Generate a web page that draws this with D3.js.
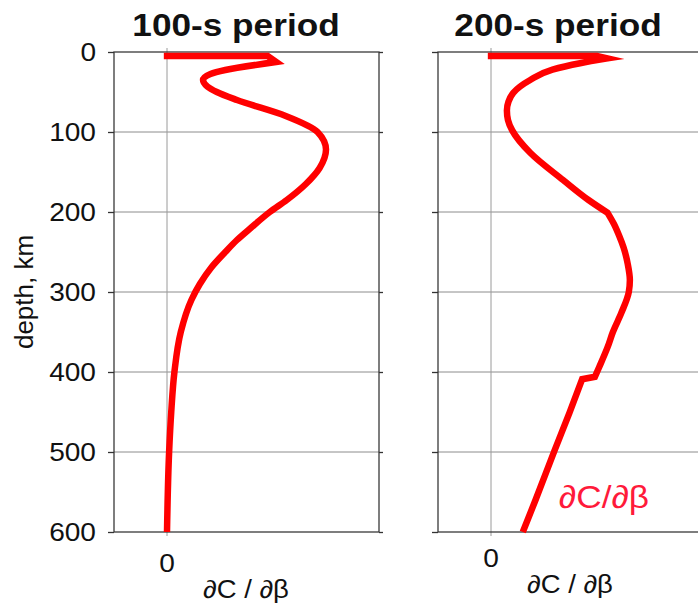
<!DOCTYPE html>
<html>
<head>
<meta charset="utf-8">
<script src="https://cdn.jsdelivr.net/npm/d3@7"></script>
<style>
  html, body { margin: 0; padding: 0; background: #fff; overflow: hidden; }
  svg { display: block; font-family: "Liberation Sans", Arial, sans-serif; }
</style>
</head>
<body>
<svg id="chart" width="698" height="604"></svg>
<script>
// Depth sensitivity kernels of phase velocity to shear velocity (arbitrary units)
const depthTicks = [0, 100, 200, 300, 400, 500, 600];
const panelTitles = ["100-s period", "200-s period"];

// the first three points trace the thin surface layer (straight segments)
const depth100 = [5, 5, 12.5, 22.5, 27.5, 35, 43, 50, 60, 80, 100, 122, 145, 165, 185, 200, 220, 235, 250, 269, 290, 310, 350, 400, 450, 500, 600];
const sens100  = [-0.03, 0.95, 1.03, 0.55, 0.41, 0.34, 0.38, 0.47, 0.66, 1.12, 1.42, 1.50, 1.44, 1.31, 1.13, 0.97, 0.79, 0.66, 0.55, 0.42, 0.31, 0.23, 0.13, 0.07, 0.04, 0.02, 0.0];
const kinks100 = [];

const depth200 = [5, 5, 8, 14, 22, 35, 51, 62, 73, 85, 98, 126, 160, 185, 201, 215, 230, 244, 265, 285, 300, 326, 350, 369, 394, 406, 409, 451, 498, 560, 600];
const sens200  = [-0.03, 1.0, 1.10, 0.84, 0.58, 0.37, 0.21, 0.165, 0.15, 0.16, 0.20, 0.37, 0.68, 0.92, 1.10, 1.16, 1.21, 1.25, 1.29, 1.31, 1.30, 1.23, 1.15, 1.10, 1.02, 0.98, 0.86, 0.74, 0.60, 0.42, 0.30];
// model discontinuities where the kernel bends sharply
const kinks200 = [201, 406, 409];

const svg = d3.select("#chart");
const plotTop = 52, plotBottom = 532;
const y = d3.scaleLinear().domain([0, 600]).range([plotTop, plotBottom]);

const panels = [
  { x0: 114, x1: 379, title: panelTitles[0], depth: depth100, sens: sens100, kinks: kinks100, titleX: 236, zeroY: 572, labelY: 598, showYLabels: true },
  { x0: 438, x1: 703, title: panelTitles[1], depth: depth200, sens: sens200, kinks: kinks200, titleX: 558, zeroY: 567, labelY: 593, showYLabels: false, note: true }
];

// stretch text horizontally to the wide face used in the figure
function widen(sel, k) {
  sel.attr("textLength", function() { return this.getComputedTextLength() * k; })
     .attr("lengthAdjust", "spacingAndGlyphs");
}

panels.forEach(p => {
  const x = d3.scaleLinear().domain([-0.5, 2.0]).range([p.x0, p.x1]);
  const g = svg.append("g");

  // horizontal grid
  g.append("g").selectAll("line").data(depthTicks.slice(1, -1)).join("line")
    .attr("x1", p.x0).attr("x2", p.x1)
    .attr("y1", d => y(d)).attr("y2", d => y(d))
    .attr("stroke", "#8c8c8c").attr("stroke-width", 1);

  // zero line
  g.append("line")
    .attr("x1", x(0)).attr("x2", x(0)).attr("y1", plotTop - 4).attr("y2", plotBottom + 4)
    .attr("stroke", "#9a9a9a").attr("stroke-width", 1);

  // frame
  g.append("rect")
    .attr("x", p.x0).attr("y", plotTop).attr("width", p.x1 - p.x0).attr("height", plotBottom - plotTop)
    .attr("fill", "none").attr("stroke", "#3a3a3a").attr("stroke-width", 1.3);

  // left axis
  const yAxis = d3.axisLeft(y).tickValues(depthTicks).tickSize(6).tickPadding(12)
    .tickFormat(p.showYLabels ? d3.format("d") : "");
  const ya = g.append("g").attr("transform", `translate(${p.x0},0)`).call(yAxis);
  ya.select(".domain").remove();
  ya.selectAll(".tick line").attr("stroke", "#333").attr("stroke-width", 1.3);
  ya.selectAll(".tick text").attr("font-size", 26).attr("fill", "#111")
    .attr("font-family", "Liberation Sans, Arial, sans-serif").call(widen, 1.08);

  // right-side ticks
  const yr = g.append("g").attr("transform", `translate(${p.x1},0)`)
    .call(d3.axisRight(y).tickValues(depthTicks).tickSize(4).tickFormat(""));
  yr.select(".domain").remove();
  yr.selectAll(".tick line").attr("stroke", "#333").attr("stroke-width", 1.3);

  // zero tick label
  g.append("text").attr("x", x(0)).attr("y", p.zeroY).attr("text-anchor", "middle")
    .attr("font-size", 26).attr("fill", "#111").text("0").call(widen, 1.08);

  // x-axis title
  g.append("text").attr("x", p.x0 + 132).attr("y", p.labelY).attr("text-anchor", "middle")
    .attr("font-size", 25).attr("fill", "#111").text("∂C / ∂β").call(widen, 1.1);

  // panel title
  g.append("text").attr("x", p.titleX).attr("y", 35.5).attr("text-anchor", "middle")
    .attr("font-size", 32).attr("font-weight", "bold").attr("fill", "#111")
    .text(p.title).call(widen, 1.1);

  // kernel curve: smooth between corners (surface layer points and kinks)
  const pts = p.depth.map((d, i) => [p.sens[i], d]);
  const corners = [0, 1, 2];
  p.depth.forEach((d, i) => { if (i > 2 && p.kinks.includes(d)) corners.push(i); });
  corners.push(pts.length - 1);
  const smooth = d3.line().x(d => x(d[0])).y(d => y(d[1])).curve(d3.curveMonotoneY);
  let dPath = "";
  for (let k = 0; k < corners.length - 1; k++) {
    const seg = smooth(pts.slice(corners[k], corners[k + 1] + 1));
    dPath += k === 0 ? seg : seg.replace(/^M[^A-Za-z]*/, "");
  }
  g.append("path")
    .attr("d", dPath).attr("fill", "none")
    .attr("stroke", "#ff0000").attr("stroke-width", 6.5)
    .attr("stroke-linejoin", "miter").attr("stroke-miterlimit", 12).attr("stroke-linecap", "butt");

  if (p.note) {
    g.append("text").attr("x", 604).attr("y", 508).attr("text-anchor", "middle")
      .attr("font-size", 32).attr("fill", "#ff1a3a").text("∂C/∂β").call(widen, 1.1);
  }
});

// depth axis title
svg.append("text")
  .attr("transform", "translate(33,292) rotate(-90)")
  .attr("text-anchor", "middle").attr("font-size", 26).attr("fill", "#111")
  .text("depth, km").call(widen, 1.0);
</script>
</body>
</html>
